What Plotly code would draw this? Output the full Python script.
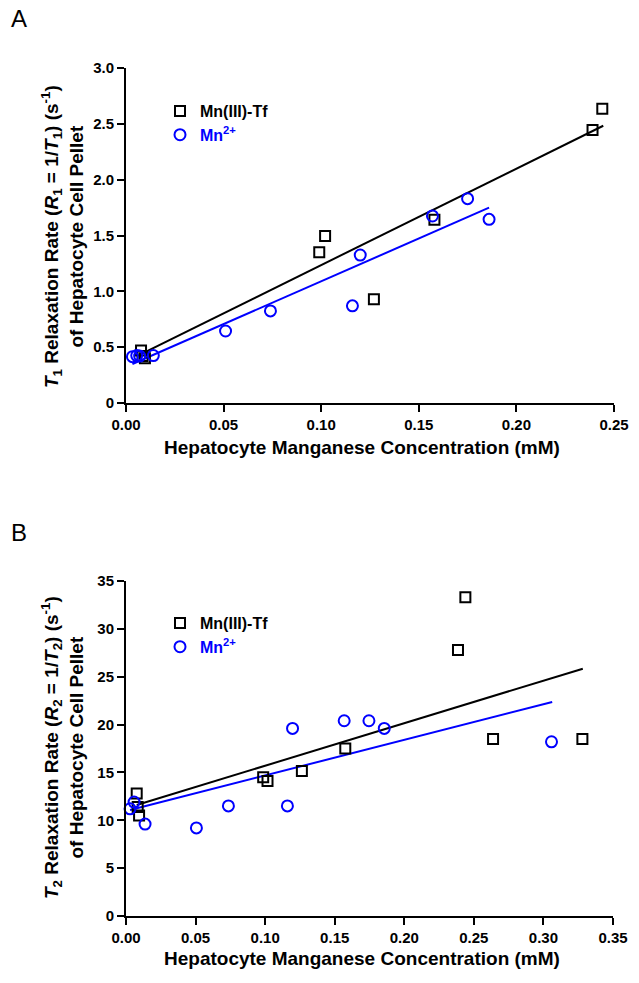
import plotly.graph_objects as go

# ---------------- Panel A data (T1) ----------------
a_tf_x = [0.0077, 0.0085, 0.0097, 0.099, 0.102, 0.127, 0.158, 0.239, 0.244]
a_tf_y = [0.47, 0.42, 0.40, 1.35, 1.495, 0.93, 1.64, 2.445, 2.635]
a_mn_x = [0.0033, 0.0055, 0.0070, 0.014, 0.051, 0.074, 0.116, 0.120, 0.157, 0.175, 0.186]
a_mn_y = [0.415, 0.425, 0.42, 0.425, 0.645, 0.825, 0.87, 1.325, 1.675, 1.83, 1.645]
a_fit_tf_x = [0.0077, 0.2445]
a_fit_tf_y = [0.438, 2.483]
a_fit_mn_x = [0.0033, 0.186]
a_fit_mn_y = [0.349, 1.749]

# ---------------- Panel B data (T2) ----------------
b_tf_x = [0.0077, 0.0084, 0.0094, 0.0986, 0.1017, 0.1264, 0.1576, 0.2386, 0.2439, 0.2638, 0.328]
b_tf_y = [12.8, 11.4, 10.5, 14.5, 14.1, 15.15, 17.5, 27.8, 33.3, 18.5, 18.5]
b_mn_x = [0.0029, 0.0058, 0.0137, 0.0506, 0.0736, 0.116, 0.1197, 0.1568, 0.1746, 0.1856, 0.3058]
b_mn_y = [11.2, 11.9, 9.6, 9.2, 11.5, 11.5, 19.6, 20.4, 20.4, 19.6, 18.2]
b_fit_tf_x = [0.0077, 0.3283]
b_fit_tf_y = [11.6, 25.84]
b_fit_mn_x = [0.0029, 0.3063]
b_fit_mn_y = [11.07, 22.36]

a_xticks = [0, 0.05, 0.10, 0.15, 0.20, 0.25]
a_xtext = ["0.00", "0.05", "0.10", "0.15", "0.20", "0.25"]
a_yticks = [0, 0.5, 1.0, 1.5, 2.0, 2.5, 3.0]
a_ytext = ["0", "0.5", "1.0", "1.5", "2.0", "2.5", "3.0"]
b_xticks = [0, 0.05, 0.10, 0.15, 0.20, 0.25, 0.30, 0.35]
b_xtext = ["0.00", "0.05", "0.10", "0.15", "0.20", "0.25", "0.30", "0.35"]
b_yticks = [0, 5, 10, 15, 20, 25, 30, 35]
b_ytext = ["0", "5", "10", "15", "20", "25", "30", "35"]

x_title = "Hepatocyte Manganese Concentration (mM)"
y_title_a = ("<i>T</i><sub>1</sub> Relaxation Rate (<i>R</i><sub>1</sub> = 1/<i>T</i><sub>1</sub>) "
             "(s<sup>-1</sup>)<br>of Hepatocyte Cell Pellet")
y_title_b = ("<i>T</i><sub>2</sub> Relaxation Rate (<i>R</i><sub>2</sub> = 1/<i>T</i><sub>2</sub>) "
             "(s<sup>-1</sup>)<br>of Hepatocyte Cell Pellet")

BLACK = "#000000"
BLUE = "#0000ff"
FONT = "Liberation Sans, Arial, sans-serif"
W, H = 639, 983

name_tf = "<b>Mn(III)-Tf</b>"
name_mn = "<b><span style='color:#0000ff'>Mn<sup>2+</sup></span></b>"

fig = go.Figure()


def add_panel(xa, ya, leg, fit_tf_x, fit_tf_y, fit_mn_x, fit_mn_y, tf_x, tf_y, mn_x, mn_y):
    fig.add_trace(go.Scatter(x=fit_tf_x, y=fit_tf_y, mode="lines", line=dict(color=BLACK, width=2),
                             xaxis=xa, yaxis=ya, showlegend=False, hoverinfo="skip", cliponaxis=False))
    fig.add_trace(go.Scatter(x=fit_mn_x, y=fit_mn_y, mode="lines", line=dict(color=BLUE, width=2),
                             xaxis=xa, yaxis=ya, showlegend=False, hoverinfo="skip", cliponaxis=False))
    fig.add_trace(go.Scatter(x=tf_x, y=tf_y, mode="markers", name=name_tf, legend=leg,
                             marker=dict(symbol="square-open", size=10, color=BLACK,
                                         line=dict(width=2, color=BLACK)),
                             xaxis=xa, yaxis=ya, cliponaxis=False))
    fig.add_trace(go.Scatter(x=mn_x, y=mn_y, mode="markers", name=name_mn, legend=leg,
                             marker=dict(symbol="circle-open", size=11, color=BLUE,
                                         line=dict(width=2, color=BLUE)),
                             xaxis=xa, yaxis=ya, cliponaxis=False))


add_panel("x", "y", "legend", a_fit_tf_x, a_fit_tf_y, a_fit_mn_x, a_fit_mn_y, a_tf_x, a_tf_y, a_mn_x, a_mn_y)
add_panel("x2", "y2", "legend2", b_fit_tf_x, b_fit_tf_y, b_fit_mn_x, b_fit_mn_y, b_tf_x, b_tf_y, b_mn_x, b_mn_y)

tickfont = dict(family=FONT, size=15, color=BLACK)


def bold(lst):
    return ["<b>%s</b>" % s for s in lst]


def axis(domain, rng, tv, tt, anchor):
    return dict(domain=domain, range=rng, tickvals=tv, ticktext=bold(tt), anchor=anchor,
                showline=True, linecolor=BLACK, linewidth=2, ticks="outside", ticklen=7,
                tickwidth=2, tickcolor=BLACK, showgrid=False, zeroline=False,
                tickfont=tickfont, fixedrange=True, automargin=False)


xd = [126 / W, 614 / W]
xd2 = [126 / W, 613 / W]
yd = [1 - 403 / H, 1 - 68 / H]
yd2 = [1 - 916 / H, 1 - 581 / H]

legfont = dict(family=FONT, size=16, color=BLACK)


def px(x):
    return x / W


def py(y):
    return 1 - y / H


def ann(text, x, y, size, angle=0, bold_text=True):
    return dict(text=("<b>%s</b>" % text) if bold_text else text, x=px(x), y=py(y),
                xref="paper", yref="paper", showarrow=False, textangle=angle,
                xanchor="center", yanchor="middle",
                font=dict(family=FONT, size=size, color=BLACK))


fig.update_layout(
    width=W, height=H,
    margin=dict(l=0, r=0, t=0, b=0, pad=0, autoexpand=False),
    paper_bgcolor="white", plot_bgcolor="white",
    font=dict(family=FONT, color=BLACK),
    xaxis=axis(xd, [0, 0.25], a_xticks, a_xtext, "y"),
    yaxis=axis(yd, [0, 3.0], a_yticks, a_ytext, "x"),
    xaxis2=axis(xd2, [0, 0.35], b_xticks, b_xtext, "y2"),
    yaxis2=axis(yd2, [0, 35], b_yticks, b_ytext, "x2"),
    legend=dict(x=px(160), y=py(94), xanchor="left", yanchor="top", bgcolor="rgba(0,0,0,0)",
                font=legfont, tracegroupgap=0, itemwidth=30),
    legend2=dict(x=px(160), y=py(606), xanchor="left", yanchor="top", bgcolor="rgba(0,0,0,0)",
                 font=legfont, tracegroupgap=0, itemwidth=30),
    annotations=[
        ann("A", 19, 18.5, 24, bold_text=False),
        ann("B", 19, 532, 24, bold_text=False),
        ann(x_title, 362, 447, 19),
        ann(x_title, 362, 958, 19),
        ann(y_title_a, 62, 237, 19, angle=-90),
        ann(y_title_b, 62, 748, 19, angle=-90),
    ],
)

fig.write_html("out.html", config={"displayModeBar": False},
               post_script="document.body.style.margin='0';")
